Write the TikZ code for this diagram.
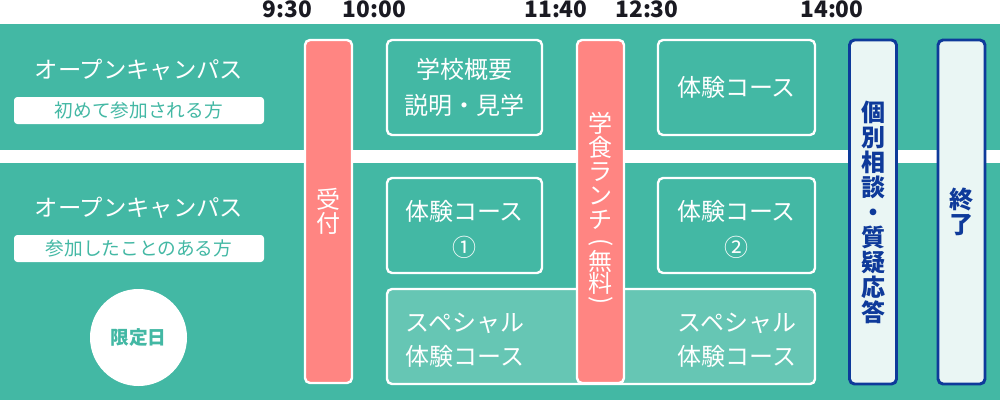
\documentclass[tikz,border=0pt]{standalone}
\usepackage{fontspec}
\usepackage{graphicx}
\setmainfont{Noto Sans CJK JP}
\definecolor{bandgreen}{HTML}{43B8A4}
\definecolor{spgreen}{HTML}{66C6B4}
\definecolor{barred}{HTML}{FF8582}
\definecolor{barblue}{HTML}{0E3A9A}
\definecolor{barfill}{HTML}{EAF6F4}
\definecolor{timeblack}{HTML}{1A1A22}
\tikzset{
  timelabel/.style={font=\bfseries\fontsize{17}{17}\selectfont, text=timeblack, inner sep=0pt},
  title/.style={font=\fontsize{17.5}{17.5}\selectfont, text=white, inner sep=0pt},
  subbox/.style={fill=white, rounded corners=2.5pt, minimum width=187.5pt, minimum height=20.25pt, inner sep=0pt,
    font=\fontsize{14}{14}\selectfont, text=bandgreen},
  greenbox/.style={draw=white, line width=1.8pt, rounded corners=3.75pt, inner sep=0pt, align=center,
    text=white, font=\fontsize{18}{27}\selectfont, minimum height=71.25pt},
  spbox/.style={greenbox, fill=spgreen},
  boxtext/.style={inner sep=0pt, align=center, text=white, font=\fontsize{18}{27}\selectfont},
  redbar/.style={fill=barred, draw=white, line width=1.8pt, rounded corners=3.75pt, inner sep=0pt,
    minimum width=35.25pt, minimum height=257.25pt, align=center, text=white, font=\fontsize{18}{18}\selectfont},
  bluebar/.style={fill=barfill, draw=barblue, line width=2.2pt, rounded corners=3.75pt, inner sep=0pt,
    minimum width=35.25pt, minimum height=258pt, align=center, text=barblue, font=\bfseries\fontsize{18}{18.75}\selectfont},
}
\begin{document}
\begin{tikzpicture}[x=0.75pt, y=-0.75pt]
\useasboundingbox (0,0) rectangle (1000,400);
\fill[white] (0,0) rectangle (1000,400);
\fill[bandgreen] (0,24) rectangle (1000,150);
\fill[bandgreen] (0,163) rectangle (1000,400);

% times
\node[timelabel] (t930) at (287.5,9.5) {9:30};
\node[timelabel] (t1000) at (374.5,9.5) {10:00};
\node[timelabel] (t1140) at (556,9.5) {11:40};
\node[timelabel] (t1230) at (647,9.5) {12:30};
\node[timelabel] (t1400) at (832,9.5) {14:00};

% left labels
\node[title] (title1) at (139,70) {オープンキャンパス};
\node[subbox] (sub1) at (139,110.5) {初めて参加される方};
\node[title] (title2) at (139,208) {オープンキャンパス};
\node[subbox] (sub2) at (139,248.5) {参加したことのある方};
\node[circle, fill=white, minimum size=72.75pt, inner sep=0pt, text=bandgreen,
  font=\bfseries\fontsize{14}{14}\selectfont] (gentei) at (138.5,337.5) {限定日};

% boxes
\node[greenbox, minimum width=116.25pt] (gaiyo) at (464.5,87.5) {学校概要\\説明・見学};
\node[greenbox, minimum width=116.25pt] (taiken1) at (464.5,225.5) {};
\node[boxtext] (taiken1t) at (464.5,229.5) {体験コース\\①};
\node[greenbox, minimum width=117.75pt] (taikenA) at (736.5,87.5) {体験コース};
\node[greenbox, minimum width=117.75pt] (taiken2) at (736.5,225.5) {};
\node[boxtext] (taiken2t) at (736.5,229.5) {体験コース\\②};
\node[spbox, minimum width=321pt] (special) at (601,336.5) {};
\node[boxtext, font=\fontsize{18}{25.5}\selectfont] (sp1) at (465,340) {スペシャル\\体験コース};
\node[boxtext, font=\fontsize{18}{25.5}\selectfont] (sp2) at (737,340) {スペシャル\\体験コース};

% bars
\node[redbar] (uketsuke) at (328.5,211.5) {受\\付};
\node[redbar] (lunch) at (600.5,211.5) {学\\食\\ラ\\ン\\チ\\\raisebox{2pt}{\rotatebox[origin=c]{-90}{(}}\\[-4.5pt]無\\[-1.5pt]料\\[-5pt]\raisebox{2pt}{\rotatebox[origin=c]{-90}{)}}};
\node[bluebar] (kobetsu) at (873,212) {個\\別\\相\\談\\・\\質\\疑\\応\\答};
\node[bluebar] (shuryo) at (961.5,212) {終\\了};
\end{tikzpicture}
\end{document}
